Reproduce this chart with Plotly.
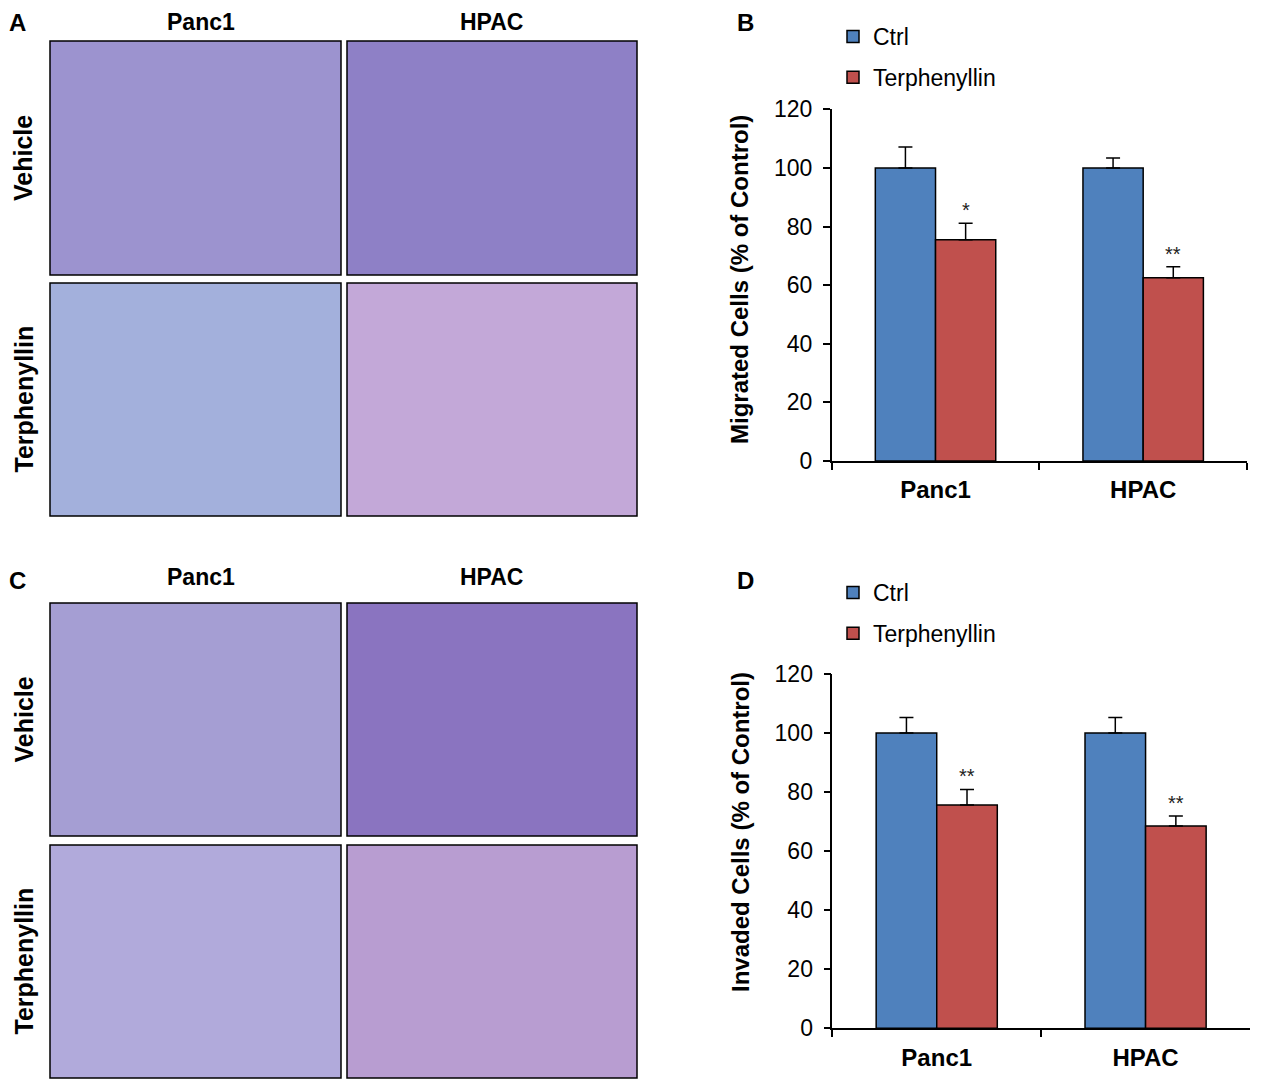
import plotly.graph_objects as go

# the page body keeps an 8px margin, so the figure is drawn 8px smaller
# and reference pixel positions are shifted by that offset
OFF = 8
W, H = 1271 - OFF, 1081 - OFF

# bar chart data
cell_lines = ["Panc1", "HPAC"]
groups = ["Ctrl", "Terphenyllin"]

migrated_ctrl = [100, 100]
migrated_ctrl_err = [7.1, 3.4]
migrated_terph = [75.5, 62.5]
migrated_terph_err = [5.6, 3.8]
migrated_stars = ["*", "**"]

invaded_ctrl = [100, 100]
invaded_ctrl_err = [5.3, 5.3]
invaded_terph = [75.6, 68.5]
invaded_terph_err = [5.3, 3.4]
invaded_stars = ["**", "**"]

y_ticks = [0, 20, 40, 60, 80, 100, 120]

# micrograph panels: mean stain colour of each field
row_labels = ["Vehicle", "Terphenyllin"]
migration_fields = [["#9c93cf", "#8e80c6"], ["#a3b0dc", "#c3a8d8"]]
invasion_fields = [["#a59ed3", "#8a74c0"], ["#b1aadb", "#b89dd1"]]

BLUE = "#4f81bd"
RED = "#c0504d"
FONT = "Liberation Sans, Arial, sans-serif"


def px(x):
    return (x - OFF) / W


def py(y):
    return 1 - (y - OFF) / H


fig = go.Figure()

charts = [
    ("x", "y", "legend", migrated_ctrl, migrated_ctrl_err, migrated_terph, migrated_terph_err, migrated_stars),
    ("x2", "y2", "legend2", invaded_ctrl, invaded_ctrl_err, invaded_terph, invaded_terph_err, invaded_stars),
]

for xa, ya, lg, c, ce, t, te, stars in charts:
    for name, vals, errs, col in [(groups[0], c, ce, BLUE), (groups[1], t, te, RED)]:
        fig.add_trace(go.Bar(
            x=cell_lines, y=vals, name=name, xaxis=xa, yaxis=ya,
            legend=lg, legendgroup=lg + name,
            marker=dict(color=col, line=dict(color="black", width=1.5)),
            error_y=dict(type="data", array=errs, arrayminus=[0] * len(errs),
                         symmetric=False, color="black", thickness=1.5, width=7),
        ))
    for i, s in enumerate(stars):
        fig.add_annotation(x=i + 0.145, y=t[i] + te[i], xref=xa, yref=ya,
                           text=s, showarrow=False, xanchor="center", yanchor="bottom",
                           font=dict(size=20, color="#222", family=FONT))

axis_common = dict(showline=True, linecolor="black", linewidth=1.5,
                   ticks="outside", ticklen=7, tickwidth=1.5, tickcolor="black",
                   showgrid=False, zeroline=False, automargin=False)

xaxis_common = dict(axis_common, type="category", range=[-0.5, 1.5],
                    tickson="boundaries",
                    tickfont=dict(size=24, color="black", family=FONT, weight="bold"))
yaxis_common = dict(axis_common, range=[0, 120], tickvals=y_ticks,
                    ticklabelstandoff=6,
                    tickfont=dict(size=23, color="black", family=FONT))

legend_common = dict(font=dict(size=23, color="black", family=FONT),
                     xanchor="left", yanchor="top", bgcolor="rgba(0,0,0,0)",
                     tracegroupgap=8, itemclick=False)

fig.update_layout(
    width=W, height=H,
    margin=dict(l=0, r=0, t=0, b=0),
    paper_bgcolor="white", plot_bgcolor="white",
    barmode="group", bargap=0.42, bargroupgap=0,
    font=dict(family=FONT, color="black"),
    xaxis=dict(xaxis_common, domain=[px(831.7), px(1247)], anchor="y", ticklabelstandoff=6),
    yaxis=dict(yaxis_common, domain=[py(461), py(109.3)], anchor="x"),
    xaxis2=dict(xaxis_common, domain=[px(832.3), px(1250)], anchor="y2", ticklabelstandoff=7),
    yaxis2=dict(yaxis_common, domain=[py(1028.3), py(674)], anchor="x2"),
    legend=dict(legend_common, x=px(833), y=py(15)),
    legend2=dict(legend_common, x=px(833), y=py(571)),
)

# y titles
for text, yc in [("Migrated Cells (% of Control)", 280), ("Invaded Cells (% of Control)", 832)]:
    fig.add_annotation(x=px(740), y=py(yc), xref="paper", yref="paper", text=text,
                       textangle=-90, showarrow=False, xanchor="center", yanchor="middle",
                       font=dict(size=24, color="black", family=FONT, weight="bold"))

# panel letters (top ones pinned to the figure top so they are not clipped)
for letter, x, y, xa, ya in [("A", 0, 1, "left", "top"), ("B", px(746), 1, "center", "top"),
                             ("C", 0, py(580), "left", "middle"), ("D", px(746), py(580), "center", "middle")]:
    fig.add_annotation(x=x, y=y, xref="paper", yref="paper", text=letter,
                       showarrow=False, xanchor=xa, yanchor=ya, borderpad=0,
                       font=dict(size=24, color="black", family=FONT, weight="bold"))

# micrograph grids
col_x = [(50, 341), (347, 637)]
header_x = [201, 491]
for fields, top, rows_y in [(migration_fields, None, [(41, 275), (283, 516)]),
                            (invasion_fields, 577, [(603, 836), (845, 1078)])]:
    for j, name in enumerate(cell_lines):
        if top is None:
            hy, ya = 1, "top"
        else:
            hy, ya = py(top), "middle"
        fig.add_annotation(x=px(header_x[j]), y=hy, xref="paper", yref="paper",
                           text=name, showarrow=False, xanchor="center", yanchor=ya,
                           borderpad=0,
                           font=dict(size=23, color="black", family=FONT, weight="bold"))
    for i, lab in enumerate(row_labels):
        y0, y1 = rows_y[i]
        fig.add_annotation(x=0, y=py((y0 + y1) / 2), xref="paper", yref="paper",
                           text=lab, textangle=-90, showarrow=False,
                           xanchor="left", yanchor="middle", borderpad=0,
                           font=dict(size=25, color="black", family=FONT, weight="bold"))
        for j in range(2):
            x0, x1 = col_x[j]
            fig.add_shape(type="rect", xref="paper", yref="paper",
                          x0=px(x0), x1=px(x1), y0=py(y1), y1=py(y0),
                          fillcolor=fields[i][j], line=dict(color="black", width=1.5))

fig.write_html("out.html")
